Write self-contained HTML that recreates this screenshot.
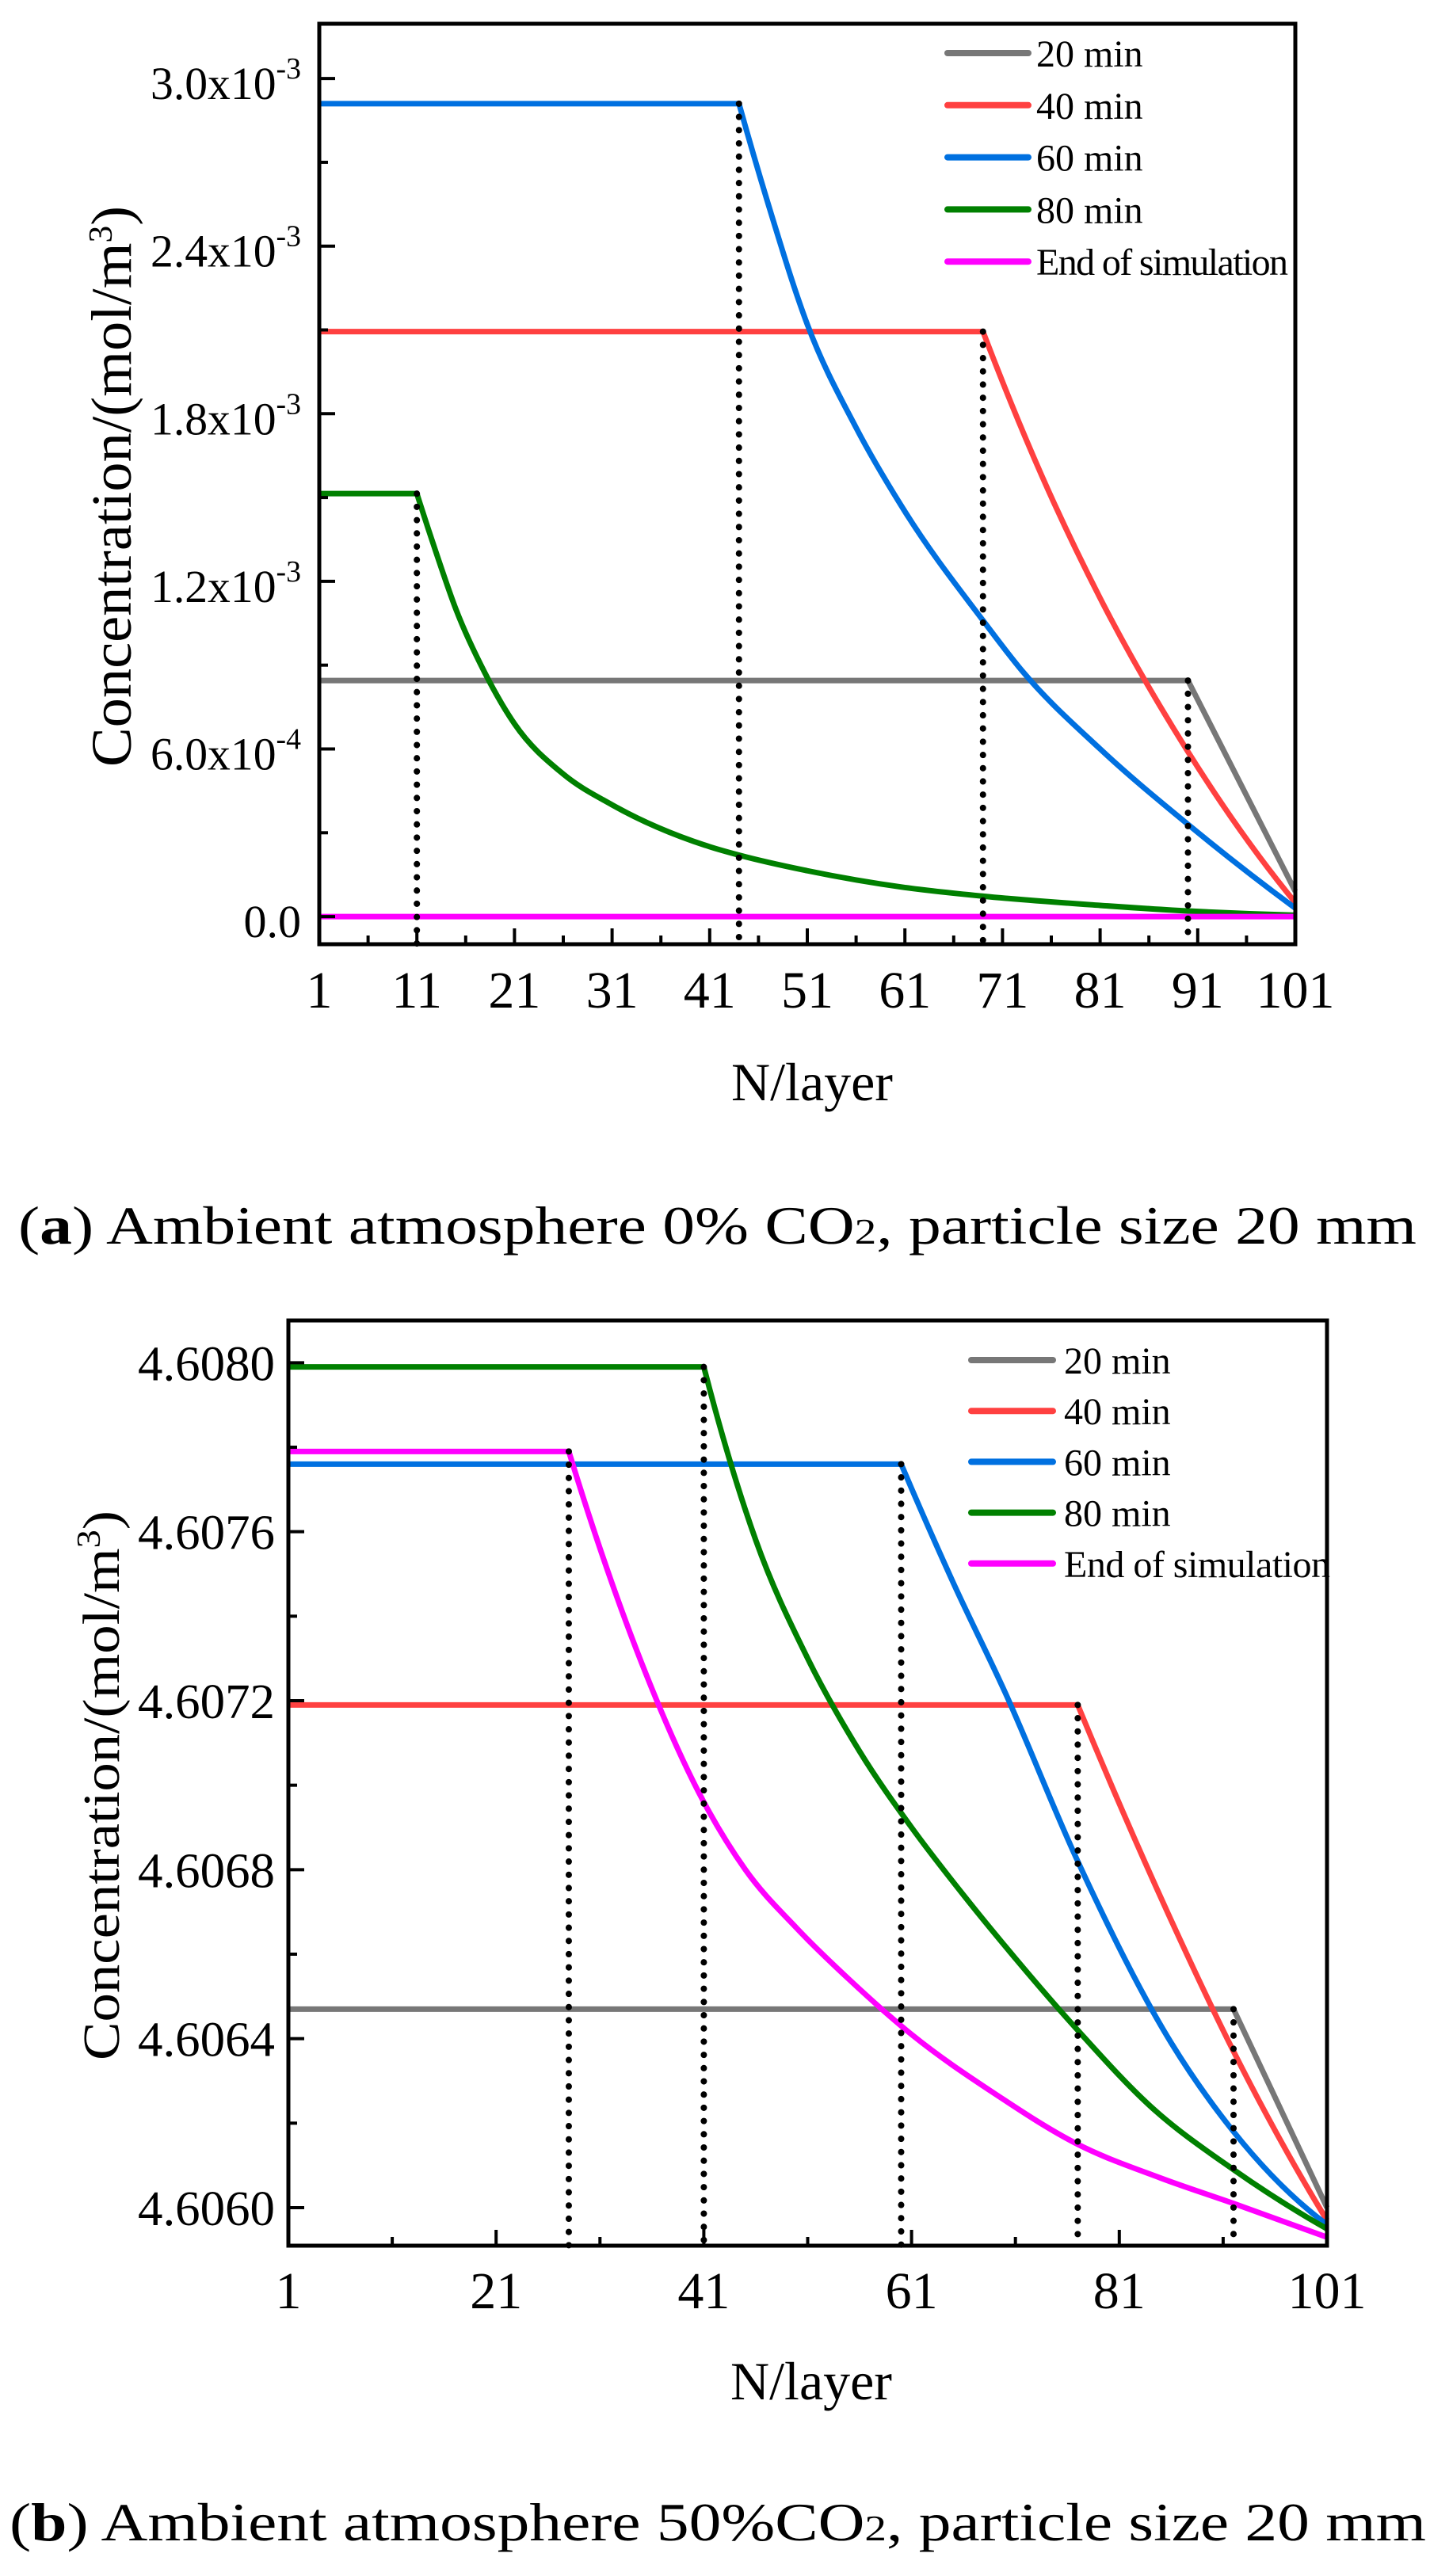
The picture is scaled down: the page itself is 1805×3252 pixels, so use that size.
<!DOCTYPE html>
<html><head><meta charset="utf-8"><style>
html,body{margin:0;padding:0;background:#fff}
svg{display:block}
text{font-family:"Liberation Serif",serif;fill:#000}
</style></head><body>
<svg id="fig" width="1805" height="3252" viewBox="0 0 1805 3252" xmlns="http://www.w3.org/2000/svg">
<g id="chartA"></g>
<g id="chartB"></g>
<text x="23" y="1570" font-size="68" textLength="1765" lengthAdjust="spacingAndGlyphs">(<tspan font-weight="bold">a</tspan>) Ambient atmosphere 0% CO<tspan font-size="46">2</tspan>, particle size 20 mm</text>
<text x="12" y="3207" font-size="68" textLength="1788" lengthAdjust="spacingAndGlyphs">(<tspan font-weight="bold">b</tspan>) Ambient atmosphere 50%CO<tspan font-size="46">2</tspan>, particle size 20 mm</text>
</svg>
<script>
// ---------- Chart A data ----------
const seriesNames = ["20 min","40 min","60 min","80 min","End of simulation"];
const seriesColors = ["#777777","#ff4040","#0070e0","#008000","#ff00ff"];
const aX20 = [1,90,101];           const aY20 = [0.845,0.845,0.09];
const aX40 = [1,69,75,81,90,101]; const aY40 = [2.094,2.094,1.58,1.14,0.59,0.05];
const aX60 = [1,44,47,51,56,61,69,73,81,90,101]; const aY60 = [2.91,2.91,2.55,2.12,1.75,1.45,1.06,0.88,0.60,0.33,0.03];
const aX80 = [1,11,13,15,18,21,26,31,41,44,51,61,69,81,90,101]; const aY80 = [1.514,1.514,1.30,1.10,0.87,0.69,0.51,0.40,0.25,0.22,0.164,0.104,0.073,0.04,0.02,0.005];
const aXEnd = [1,101]; const aYEnd = [0,0];
const aBreaks = [11,44,69,90];
const aBreakVals = [1.514,2.91,2.094,0.845];
const aYTicks = [0,0.6,1.2,1.8,2.4,3.0];
const aYTickLabels = ["0.0","6.0x10","1.2x10","1.8x10","2.4x10","3.0x10"];
const aYTickExp = ["","-4","-3","-3","-3","-3"];
const aXTicks = [1,11,21,31,41,51,61,71,81,91,101];
// ---------- Chart B data ----------
const bX20 = [1,92,101]; const bY20 = [4.60647,4.60647,4.60600];
const bX40 = [1,77,86,92,101]; const bY40 = [4.60719,4.60719,4.60668,4.60637,4.60597];
const bX60 = [1,60,65,70,77,86,92,101]; const bY60 = [4.60776,4.60776,4.60748,4.60722,4.60682,4.60639,4.60618,4.60596];
const bX80 = [1,41,46,51,56,61,66,71,77,84,92,101]; const bY80 = [4.60799,4.60799,4.60758,4.60730,4.60708,4.60690,4.60674,4.60659,4.60642,4.60624,4.60609,4.60595];
const bXEnd = [1,28,35,41,45,50,55,61,69,77,85,92,101]; const bYEnd = [4.60779,4.60779,4.60729,4.60696,4.60680,4.60666,4.60654,4.60641,4.60627,4.60615,4.60607,4.60601,4.60593];
const bBreaks = [28,41,60,77,92];
const bBreakVals = [4.60779,4.60799,4.60776,4.60719,4.60647];
const bYTicks = [4.6060,4.6064,4.6068,4.6072,4.6076,4.6080];
const bYTickLabels = ["4.6060","4.6064","4.6068","4.6072","4.6076","4.6080"];
const bXTicks = [1,21,41,61,81,101];

const NS="http://www.w3.org/2000/svg";
function mk(parent,tag,attrs){const e=document.createElementNS(NS,tag);for(const k in attrs)e.setAttribute(k,attrs[k]);parent.appendChild(e);return e;}

function smoothPath(xs,ys,sx,sy){
  const n=xs.length;const px=xs.map(sx),py=ys.map(sy);
  if(n<3){return "M"+px.map((x,i)=>x+","+py[i]).join(" L");}
  const h=[],d=[];
  for(let i=0;i<n-1;i++){h.push(px[i+1]-px[i]);d.push((py[i+1]-py[i])/h[i]);}
  const m=new Array(n).fill(0);
  for(let i=1;i<n-1;i++){
    if(d[i-1]===0||d[i]===0){m[i]=NaN;continue;}
    if(d[i-1]*d[i]<0){m[i]=0;continue;}
    m[i]=(d[i-1]*h[i]+d[i]*h[i-1])/(h[i-1]+h[i]);
  }
  m[0]=d[0]===0?0:d[0];m[n-1]=d[n-2];
  for(let i=0;i<n;i++){
    if(isNaN(m[i])){
      if(i+2<n){const a=d[i],b=d[i+1];m[i]=a+(a-b)*h[i]/(h[i]+h[i+1]);if(Math.abs(m[i])<Math.abs(a))m[i]=a;}else m[i]=d[i];
    }
  }
  if(n>=3&&d[n-3]!==0){const a=d[n-2],b=d[n-3];let e=a+(a-b)*h[n-2]/(h[n-2]+h[n-3]);if(e*a<0)e=a;m[n-1]=e;}
  let p="M"+px[0]+","+py[0];
  for(let i=0;i<n-1;i++){
    let m0=m[i],m1=m[i+1];
    if(d[i]===0){m0=0;m1=0;}
    p+=" C"+(px[i]+h[i]/3)+","+(py[i]+m0*h[i]/3)+" "+(px[i+1]-h[i]/3)+","+(py[i+1]-m1*h[i]/3)+" "+px[i+1]+","+py[i+1];
  }
  return p;
}

function drawChart(g,cfg){
  const sx=v=>cfg.L+(v-cfg.x0)/(cfg.x1-cfg.x0)*(cfg.R-cfg.L);
  const sy=v=>cfg.B-(v-cfg.y0)/(cfg.y1-cfg.y0)*(cfg.B-cfg.T);
  cfg.series.forEach((s,i)=>{
    const p=mk(g,"path",{d:smoothPath(s[0],s[1],sx,sy),fill:"none",stroke:seriesColors[i],"stroke-width":7,"stroke-linejoin":"round"});
    
    
  });
  cfg.breaks.forEach((b,i)=>{
    const l=mk(g,"line",{x1:sx(b),x2:sx(b),y1:sy(cfg.breakVals[i]),y2:cfg.B,stroke:"#000","stroke-width":8,"stroke-dasharray":"0.1 16.6","stroke-linecap":"round"});
    
    
  });
  const fr=mk(g,"rect",{x:cfg.L,y:cfg.T,width:cfg.R-cfg.L,height:cfg.B-cfg.T,fill:"none",stroke:"#000","stroke-width":5});
  
  
  cfg.xTicks.forEach(v=>{
    mk(g,"line",{x1:sx(v),x2:sx(v),y1:cfg.B,y2:cfg.B-20,stroke:"#000","stroke-width":4});
    const t=mk(g,"text",{x:sx(v),y:cfg.xLabelY,"font-size":66,"text-anchor":"middle"});t.textContent=v;
    
    
  });
  for(let i=0;i<cfg.xTicks.length-1;i++){const v=(cfg.xTicks[i]+cfg.xTicks[i+1])/2;mk(g,"line",{x1:sx(v),x2:sx(v),y1:cfg.B,y2:cfg.B-11,stroke:"#000","stroke-width":4});}
  cfg.yTicks.forEach((v,i)=>{
    mk(g,"line",{x1:cfg.L,x2:cfg.L+20,y1:sy(v),y2:sy(v),stroke:"#000","stroke-width":4});
    const hasExp=cfg.yExp&&cfg.yExp[i];
    const t=mk(g,"text",{x:cfg.yLabelX,y:sy(v)+cfg.yLabelDy,"font-size":cfg.yFont,"text-anchor":"end"});
    t.textContent=cfg.yLabels[i];
    if(hasExp){const ts=mk(t,"tspan",{"font-size":38,dy:-26});ts.textContent=cfg.yExp[i];t.setAttribute("textLength",cfg.yExpLen);t.setAttribute("lengthAdjust","spacingAndGlyphs");}
    else if(cfg.yPlainLen&&cfg.yLabels[i].length>3){t.setAttribute("textLength",cfg.yPlainLen);t.setAttribute("lengthAdjust","spacingAndGlyphs");}
    
    
  });
  for(let i=0;i<cfg.yTicks.length-1;i++){const v=(cfg.yTicks[i]+cfg.yTicks[i+1])/2;mk(g,"line",{x1:cfg.L,x2:cfg.L+11,y1:sy(v),y2:sy(v),stroke:"#000","stroke-width":4});}
  const xt=mk(g,"text",{x:cfg.xTitleX,y:cfg.xTitleY,"font-size":68,"text-anchor":"middle"});xt.textContent="N/layer";
  
  
  const yt=mk(g,"text",{transform:"translate("+cfg.yTitleX+","+cfg.yTitleY+") rotate(-90)","font-size":cfg.yTitleFont,"text-anchor":"middle",textLength:cfg.yTitleLen,lengthAdjust:"spacingAndGlyphs"});
  yt.textContent="Concentration/(mol/m";const s3=mk(yt,"tspan",{dy:-24,"font-size":42});s3.textContent="3";const s4=mk(yt,"tspan",{dy:24});s4.textContent=")";
  
  
  seriesNames.forEach((n,i)=>{
    const y=cfg.legY0+i*cfg.legDy;
    const lg=mk(g,"g",{});
    
    
    mk(lg,"line",{x1:cfg.legX1,x2:cfg.legX2,y1:y,y2:y,stroke:seriesColors[i],"stroke-width":8,"stroke-linecap":"round"});
    const t=mk(lg,"text",{x:cfg.legTX,y:y+17,"font-size":48});t.textContent=n;
    if(i===4)t.setAttribute("textLength",cfg.legEndLen);
  });
}
drawChart(document.getElementById("chartA"),{
  L:403,R:1635,T:30,B:1192,x0:1,x1:101,y0:-0.099,y1:3.196,
  series:[[aX20,aY20],[aX40,aY40],[aX60,aY60],[aX80,aY80],[aXEnd,aYEnd]],
  breaks:aBreaks,breakVals:aBreakVals,xTicks:aXTicks,xLabelY:1272,
  yTicks:aYTicks,yLabels:aYTickLabels,yExp:aYTickExp,yExpLen:190,yPlainLen:0,yLabelX:380,yLabelDy:26,yFont:58,
  xTitleX:1025,xTitleY:1389,yTitleX:165,yTitleY:614,yTitleFont:72,yTitleLen:708,
  legY0:67,legDy:65.8,legX1:1196,legX2:1298,legTX:1308,legEndLen:318
});
drawChart(document.getElementById("chartB"),{
  L:364,R:1675,T:1667,B:2835,x0:1,x1:101,y0:4.60591,y1:4.60810,
  series:[[bX20,bY20],[bX40,bY40],[bX60,bY60],[bX80,bY80],[bXEnd,bYEnd]],
  breaks:bBreaks,breakVals:bBreakVals,xTicks:bXTicks,xLabelY:2914,
  yTicks:bYTicks,yLabels:bYTickLabels,yExp:null,yPlainLen:173,yLabelX:347,yLabelDy:22,yFont:62,
  xTitleX:1024,xTitleY:3029,yTitleX:150,yTitleY:2254,yTitleFont:66,yTitleLen:694,
  legY0:1717,legDy:64.2,legX1:1226,legX2:1329,legTX:1343,legEndLen:336
});
</script>
</body></html>
